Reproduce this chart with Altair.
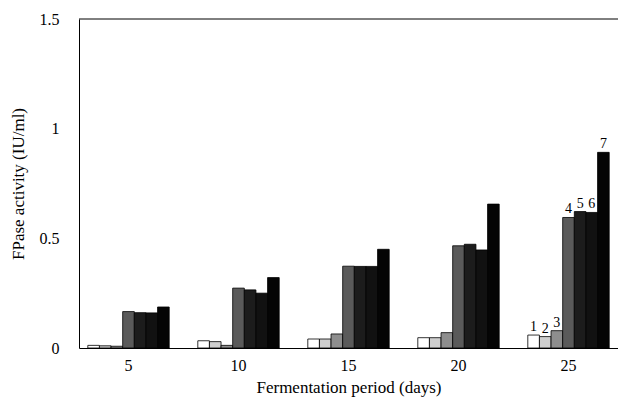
import altair as alt
import pandas as pd

days = [5, 10, 15, 20, 25]
treatments = ["1", "2", "3", "4", "5", "6", "7"]
s1 = [0.012, 0.033, 0.041, 0.047, 0.059]
s2 = [0.010, 0.029, 0.041, 0.047, 0.052]
s3 = [0.008, 0.012, 0.064, 0.070, 0.079]
s4 = [0.166, 0.273, 0.373, 0.466, 0.595]
s5 = [0.161, 0.265, 0.372, 0.473, 0.622]
s6 = [0.160, 0.250, 0.372, 0.447, 0.618]
s7 = [0.187, 0.321, 0.450, 0.656, 0.892]
colors = ["#ffffff", "#cfcfcf", "#8e8e8e", "#5a5a5a", "#1c1c1c", "#111111", "#050505"]
y_top = [1.5]

rows = []
for name, vals in zip(treatments, [s1, s2, s3, s4, s5, s6, s7]):
    for d, v in zip(days, vals):
        rows.append({"day": d, "treatment": name, "activity": v})
df = pd.DataFrame(rows)

FONT = "Liberation Serif"

x = alt.X(
    "day:O",
    title="Fermentation period (days)",
    scale=alt.Scale(paddingInner=0.26, paddingOuter=0.08),
    axis=alt.Axis(labelAngle=0, ticks=False, labelPadding=9, titlePadding=6),
)
xoff = alt.XOffset("treatment:N", scale=alt.Scale(paddingInner=0, paddingOuter=0))
y = alt.Y(
    "activity:Q",
    title="FPase activity (IU/ml)",
    scale=alt.Scale(domain=[0, 1.5], nice=False),
    axis=alt.Axis(values=[0, 0.5, 1, 1.5], ticks=False, grid=False,
                  labelPadding=20, titlePadding=12, labelExpr="datum.value + ''"),
)

bars = alt.Chart(df).mark_bar(stroke="black", strokeWidth=0.8).encode(
    x=x,
    xOffset=xoff,
    y=y,
    fill=alt.Fill("treatment:N", scale=alt.Scale(domain=treatments, range=colors), legend=None),
)

labels = alt.Chart(df).transform_filter(alt.datum.day == 25).mark_text(
    dy=-8, font=FONT, fontSize=14, color="black"
).encode(
    x=x,
    xOffset=xoff,
    y=y,
    text="treatment:N",
)

top = alt.Chart(pd.DataFrame({"activity": y_top})).mark_rule(color="black", strokeWidth=1).encode(
    y=y
)

chart = alt.layer(bars, labels, top).properties(
    width=539,
    height=329,
    autosize=alt.AutoSizeParams(type="none"),
    padding={"left": 71, "top": 11, "right": 0, "bottom": 55},
).configure_view(stroke=None).configure_axis(
    labelFont=FONT, titleFont=FONT, labelFontSize=16, titleFontSize=17,
    titleFontWeight="normal", labelColor="black", titleColor="black",
    domainColor="black", domainWidth=1,
)

chart.save("out.html", embed_options={"renderer": "svg", "actions": False})
